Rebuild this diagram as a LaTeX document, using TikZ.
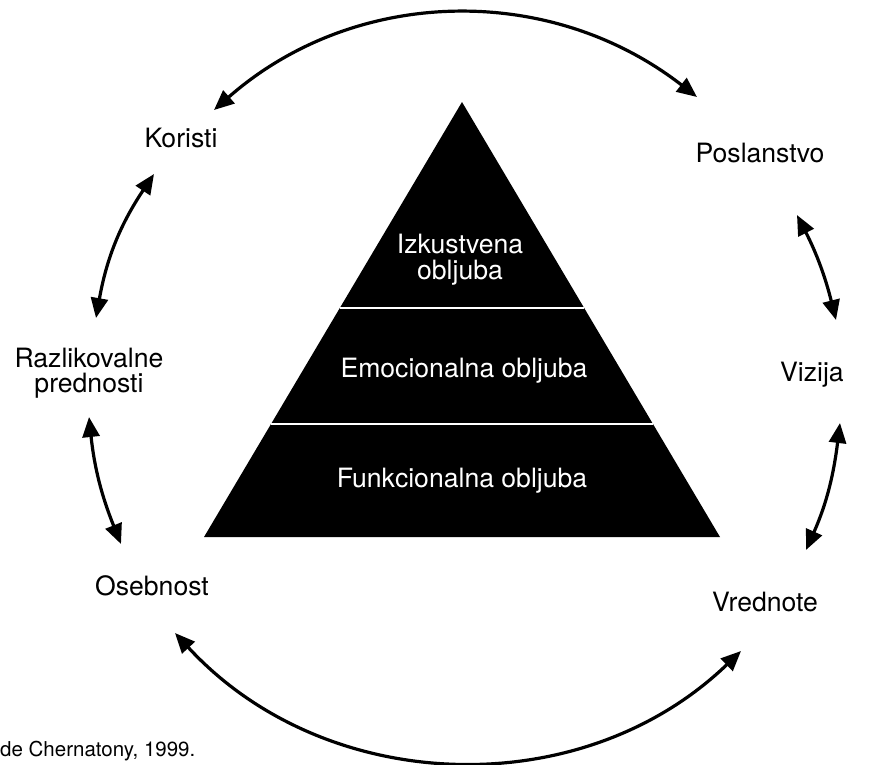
\documentclass[tikz,border=0pt]{standalone}
\usepackage{fontspec}
\setmainfont{TeX Gyre Heros}
\usetikzlibrary{arrows.meta,calc}
\begin{document}
\begin{tikzpicture}[x=1pt,y=-1pt,
  lbl/.style={font=\fontsize{26.6}{25}\selectfont, anchor=base, inner sep=0pt, align=center},
  inlbl/.style={lbl, text=white, font=\fontsize{26.6}{26}\selectfont},
  src/.style={font=\fontsize{20.5}{21}\selectfont, anchor=base west, inner sep=0pt},
  link/.style={line width=3.2pt, >={Triangle[length=20pt,width=17pt]}, <->},
  divider/.style={white, line width=1.5pt}]
\useasboundingbox (0,0) rectangle (870,764);

% pyramid of promises
\coordinate (apex) at (462,102);
\coordinate (bl) at (204,537);
\coordinate (br) at (720,537);
\fill[black] (apex) -- (bl) -- (br) -- cycle;
\draw[divider] ($(apex)!0.4736!(bl)$) -- ($(apex)!0.4736!(br)$);
\draw[divider] ($(apex)!0.7402!(bl)$) -- ($(apex)!0.7402!(br)$);

% multi-line labels are anchored at the baseline of their last line
\node[inlbl] (izk) at (460,279) {Izkustvena\\obljuba};
\node[inlbl] (emo) at (464,377) {Emocionalna obljuba};
\node[inlbl] (funk) at (462,487) {Funkcionalna obljuba};

% surrounding brand elements
\node[lbl] (koristi) at (181,147) {Koristi};
\node[lbl] (poslanstvo) at (760,162) {Poslanstvo};
\node[lbl] (razlik) at (89,392) {Razlikovalne\\prednosti};
\node[lbl] (vizija) at (812,381) {Vizija};
\node[lbl] (osebnost) at (152,595) {Osebnost};
\node[lbl] (vrednote) at (765,611) {Vrednote};

\node[src] (vir) at (0,756) {de Chernatony, 1999.};

% arrow end points
\coordinate (t1) at (214,110);
\coordinate (t2) at (697,97);
\coordinate (b1) at (175,633);
\coordinate (b2) at (741,651);
\coordinate (l1) at (154,174);
\coordinate (l2) at (96,318);
\coordinate (l3) at (89,417);
\coordinate (l4) at (121,544);
\coordinate (r1) at (797,215);
\coordinate (r2) at (836,320);
\coordinate (r3) at (840,423);
\coordinate (r4) at (806,550);

% two-headed arcs
\draw[link] (t1) .. controls ($(t1)+(140,-123)$) and ($(t2)+(-148,-115)$) .. (t2);
\draw[link] (b1) .. controls ($(b1)+(150,163)$) and ($(b2)+(-160,154)$) .. (b2);
\draw[link] (l1) .. controls ($(l1)+(-33.7,50.5)$) and ($(l2)+(10.6,-59.8)$) .. (l2);
\draw[link] (l3) .. controls ($(l3)+(5.4,51)$) and ($(l4)+(-19.2,-47.6)$) .. (l4);
\draw[link] (r1) .. controls ($(r1)+(19.9,39)$) and ($(r2)+(-10.6,-42.5)$) .. (r2);
\draw[link] (r3) .. controls ($(r3)+(-6.3,51.1)$) and ($(r4)+(20.9,-47)$) .. (r4);
\end{tikzpicture}
\end{document}
